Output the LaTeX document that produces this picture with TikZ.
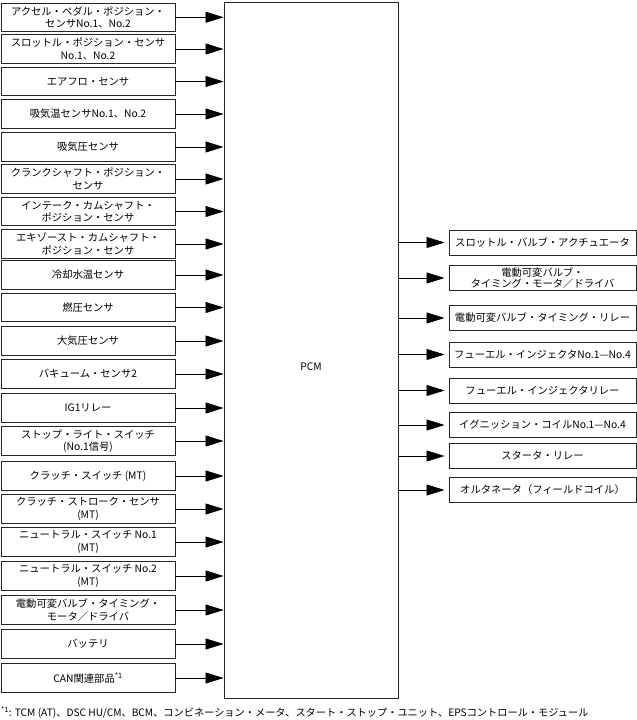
\documentclass[tikz,border=0pt]{standalone}
\usepackage{fontspec}
\setmainfont{Noto Sans CJK JP}
\usetikzlibrary{arrows.meta,calc}
\tikzset{
  inbox/.style ={draw=black!85, line width=0.9pt, fill=white, align=center,
                 font=\fontsize{10.3}{12.4}\selectfont, inner sep=0pt,
                 minimum width=174pt, minimum height=28.5pt},
  outbox/.style={draw=black!85, line width=0.9pt, fill=white, align=center,
                 font=\fontsize{10.3}{11.8}\selectfont, inner sep=0pt,
                 minimum width=187pt, minimum height=25pt},
  pcmbox/.style={draw=black!85, line width=0.9pt, inner sep=0pt,
                 minimum width=174pt, minimum height=696pt},
  ar/.style    ={-{Triangle[length=18pt,width=11pt]}, line width=0.8pt},
  note/.style  ={font=\fontsize{10.2}{12}\selectfont, inner sep=0pt},
}
\begin{document}
\begin{tikzpicture}[x=1pt,y=-1pt]
\useasboundingbox (0,0) rectangle (637,720);

% PCM
\node[pcmbox, label={[font=\fontsize{10.3}{12}\selectfont, yshift=-17pt]center:PCM}] (pcm) at (311,350) {};

% inputs
\foreach \y/\n/\t in {
  17.25/accel/{アクセル・ペダル・ポジション・\\センサNo.1、No.2},
  49/tps/{スロットル・ポジション・センサ\\No.1、No.2},
  81.5/maf/{エアフロ・センサ},
  114/iat/{吸気温センサNo.1、No.2},
  147/map/{吸気圧センサ},
  179/ckp/{クランクシャフト・ポジション・\\センサ},
  211.5/icmp/{インテーク・カムシャフト・\\ポジション・センサ},
  244/ecmp/{エキゾースト・カムシャフト・\\ポジション・センサ},
  275/ect/{冷却水温センサ},
  307.5/fuelp/{燃圧センサ},
  341/baro/{大気圧センサ},
  374/vac/{バキューム・センサ2},
  408/igone/{IG1リレー},
  441/stoplt/{ストップ・ライト・スイッチ\\(No.1信号)},
  476/clsw/{クラッチ・スイッチ (MT)},
  509/clst/{クラッチ・ストローク・センサ\\(MT)},
  542/ntone/{ニュートラル・スイッチ No.1\\(MT)},
  576/nttwo/{ニュートラル・スイッチ No.2\\(MT)},
  610/evtin/{電動可変バルブ・タイミング・\\モータ／ドライバ},
  644/batt/{バッテリ},
  678/can/{CAN関連部品\textsuperscript{*1}}}
{
  \node[inbox] (\n) at (88,\y) {\t};
  \draw[ar] (\n.east) -- (\n.east -| pcm.west);
}

% outputs
\foreach \y/\n/\t in {
  242.5/etc/{スロットル・バルブ・アクチュエータ},
  278/evtout/{電動可変バルブ・\\タイミング・モータ／ドライバ},
  318/evtrly/{電動可変バルブ・タイミング・リレー},
  354.5/inj/{フューエル・インジェクタNo.1—No.4},
  390.5/injrly/{フューエル・インジェクタリレー},
  425/ign/{イグニッション・コイルNo.1—No.4},
  456/strly/{スタータ・リレー},
  490/alt/{オルタネータ（フィールドコイル）}}
{
  \node[outbox] (\n) at (542.5,\y) {\t};
  \draw[ar, shorten >=4pt] (pcm.east |- \n.west) -- (\n.west);
}

% footnote
\node[note, anchor=base west] (fn) at (1,716)
  {\textsuperscript{*1}: TCM (AT)、DSC HU/CM、BCM、コンビネーション・メータ、スタート・ストップ・ユニット、EPSコントロール・モジュール};
\end{tikzpicture}
\end{document}
